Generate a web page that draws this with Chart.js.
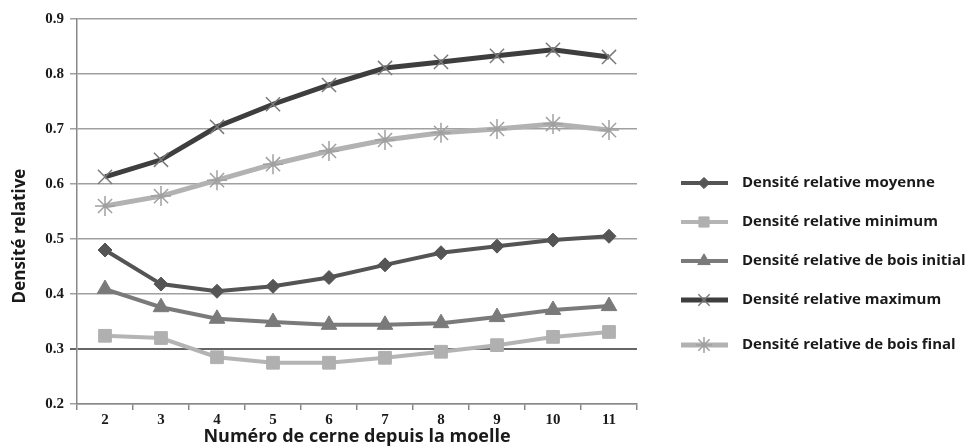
<!DOCTYPE html>
<html>
<head>
<meta charset="utf-8">
<script src="https://cdn.jsdelivr.net/npm/chart.js@4.4.1/dist/chart.umd.min.js"></script>
<style>
	html, body { margin: 0; padding: 0; background: #fff; }
	#wrap { width: 977px; height: 448px; position: relative; }
</style>
</head>
<body>
<div id="wrap"><canvas id="chart"></canvas></div>
<script>
const categories = ['2', '3', '4', '5', '6', '7', '8', '9', '10', '11']
const moyenne = [0.48, 0.418, 0.405, 0.414, 0.43, 0.453, 0.475, 0.487, 0.498, 0.505]
const minimum = [0.324, 0.32, 0.285, 0.275, 0.275, 0.284, 0.295, 0.307, 0.322, 0.331]
const boisInitial = [0.409, 0.376, 0.355, 0.349, 0.344, 0.344, 0.347, 0.358, 0.371, 0.378]
const maximum = [0.613, 0.644, 0.704, 0.745, 0.78, 0.811, 0.822, 0.833, 0.844, 0.831]
const boisFinal = [0.56, 0.578, 0.607, 0.636, 0.66, 0.68, 0.693, 0.7, 0.709, 0.698]
const yTicks = [0.2, 0.3, 0.4, 0.5, 0.6, 0.7, 0.8, 0.9]

const serif = '"Liberation Serif", serif'
const sans = '"Open Sans", "DejaVu Sans", sans-serif'

// legend on the right (line + marker + label) and the rotated y title
const sideLegend = {
	id: 'sideLegend',
	afterDraw(chart) {
		const ctx = chart.ctx
		const rows = [183, 222, 261, 300, 345]
		chart.data.datasets.forEach((ds, i) => {
			const y = rows[i]
			ctx.save()
			ctx.strokeStyle = ds.borderColor
			ctx.lineWidth = ds.borderWidth
			ctx.beginPath()
			ctx.moveTo(681, y)
			ctx.lineTo(728, y)
			ctx.stroke()
			ctx.fillStyle = ds.pointBackgroundColor
			ctx.strokeStyle = ds.pointBorderColor
			ctx.lineWidth = ds.pointBorderWidth
			Chart.helpers.drawPoint(ctx, {
				pointStyle: ds.pointStyle,
				radius: ds.pointRadius * 0.8,
				rotation: 0,
				borderWidth: ds.pointBorderWidth,
			}, 704, y)
			ctx.fillStyle = '#1a1a1a'
			ctx.font = 'bold 15px ' + sans
			ctx.textBaseline = 'middle'
			ctx.fillText(ds.label, 742, y)
			ctx.restore()
		})

		ctx.save()
		ctx.translate(20, 236)
		ctx.rotate(-Math.PI / 2)
		ctx.fillStyle = '#1a1a1a'
		ctx.font = 'bold 17px ' + sans
		ctx.textAlign = 'center'
		ctx.textBaseline = 'middle'
		ctx.fillText('Densité relative', 0, 0)
		ctx.restore()
	},
}

const ctx = document.getElementById('chart').getContext('2d')
new Chart(ctx, {
	type: 'line',
	data: {
		labels: categories,
		datasets: [
			{
				label: 'Densité relative moyenne',
				data: moyenne,
				borderColor: '#545454',
				borderWidth: 4,
				pointStyle: 'rectRot',
				pointRadius: 7,
				pointBackgroundColor: '#555555',
				pointBorderColor: '#555555',
				pointBorderWidth: 1,
			},
			{
				label: 'Densité relative minimum',
				data: minimum,
				borderColor: '#b4b4b4',
				borderWidth: 4,
				pointStyle: 'rect',
				pointRadius: 9,
				pointBackgroundColor: '#b0b0b0',
				pointBorderColor: '#b0b0b0',
				pointBorderWidth: 1,
			},
			{
				label: 'Densité relative de bois initial',
				data: boisInitial,
				borderColor: '#7a7a7a',
				borderWidth: 4,
				pointStyle: 'triangle',
				pointRadius: 9,
				pointBackgroundColor: '#7a7a7a',
				pointBorderColor: '#7a7a7a',
				pointBorderWidth: 1,
			},
			{
				label: 'Densité relative maximum',
				data: maximum,
				borderColor: '#3e3e3e',
				borderWidth: 5,
				pointStyle: 'crossRot',
				pointRadius: 10,
				pointBackgroundColor: '#7a7a7a',
				pointBorderColor: '#7a7a7a',
				pointBorderWidth: 1.5,
			},
			{
				label: 'Densité relative de bois final',
				data: boisFinal,
				borderColor: '#b2b2b2',
				borderWidth: 5,
				pointStyle: 'star',
				pointRadius: 10,
				pointBackgroundColor: '#a0a0a0',
				pointBorderColor: '#a0a0a0',
				pointBorderWidth: 1.5,
			},
		],
	},
	options: {
		responsive: true,
		maintainAspectRatio: false,
		animation: false,
		layout: { padding: { left: 0, right: 340, top: 19, bottom: 0 } },
		plugins: {
			legend: { display: false },
			tooltip: { enabled: false },
		},
		scales: {
			x: {
				offset: true,
				grid: {
					offset: true,
					drawOnChartArea: false,
					drawTicks: true,
					tickLength: 6,
					color: '#888',
					lineWidth: 1.5,
				},
				border: { color: '#888', width: 1.5 },
				ticks: {
					color: '#1a1a1a',
					font: { family: serif, weight: 'bold', size: 15 },
					padding: 1,
				},
				title: {
					display: true,
					text: 'Numéro de cerne depuis la moelle',
					color: '#1a1a1a',
					font: { family: sans, weight: 'bold', size: 18 },
					padding: { top: -6, bottom: 0 },
				},
				afterFit(scale) { scale.height = 44 },
			},
			y: {
				min: 0.2,
				max: 0.9,
				afterBuildTicks(scale) {
					scale.ticks = yTicks.map(v => ({ value: v }))
				},
				grid: {
					color: ctx => (ctx.tick && ctx.tick.value === 0.3 ? '#666' : '#a0a0a0'),
					lineWidth: ctx => (ctx.tick && ctx.tick.value === 0.3 ? 2 : 1.5),
					tickLength: 7,
				},
				border: { color: '#888', width: 1.5 },
				ticks: {
					color: '#1a1a1a',
					font: { family: serif, weight: 'bold', size: 15 },
					padding: 6,
					callback: v => v.toFixed(1),
				},
				afterFit(scale) { scale.width = 77 },
			},
		},
	},
	plugins: [sideLegend],
})
</script>
</body>
</html>
